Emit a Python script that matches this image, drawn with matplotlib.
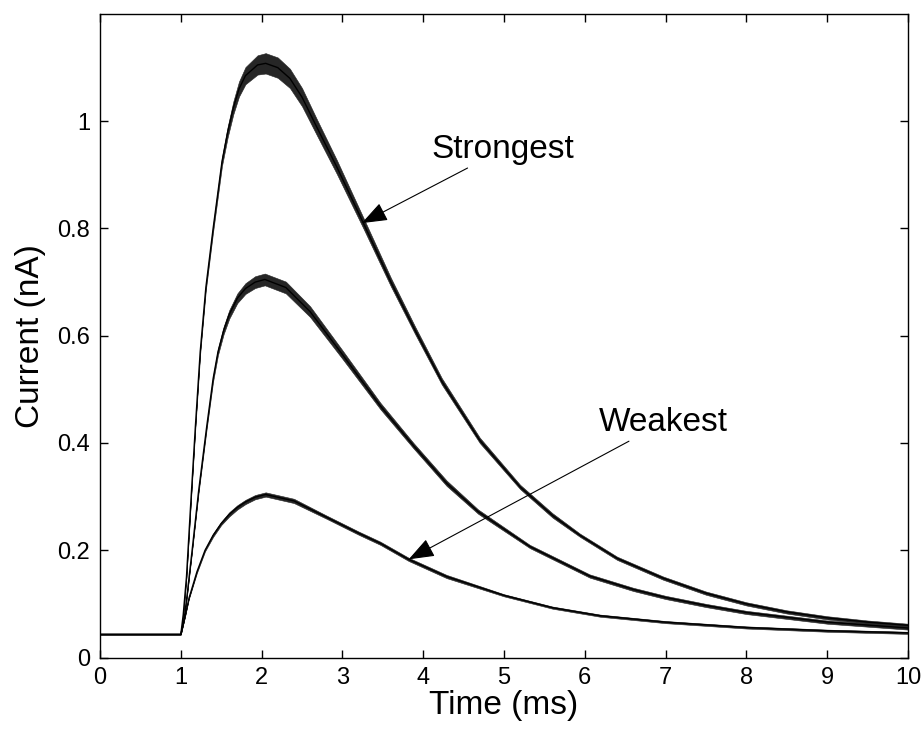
import matplotlib
matplotlib.use("Agg")
import matplotlib.pyplot as plt
import numpy as np

plt.rcParams['font.family'] = ['Liberation Sans', 'DejaVu Sans']

# Time samples (ms) and current traces (nA): centre of trace and half-width of the ripple band
t_strong = [0.0, 1.0, 1.03, 1.07, 1.12, 1.18, 1.24, 1.31, 1.40, 1.51, 1.58, 1.65, 1.72, 1.80, 1.95, 2.05,
            2.20, 2.35, 2.50, 2.68, 2.93, 3.26, 3.60, 3.90, 4.23, 4.70, 5.20, 5.60, 5.94, 6.40, 6.97,
            7.50, 8.00, 8.50, 9.00, 9.50, 10.0]
i_strong = [0.043, 0.043, 0.08, 0.15, 0.28, 0.43, 0.57, 0.69, 0.80, 0.925, 0.98, 1.025, 1.06, 1.085, 1.105, 1.108,
            1.10, 1.08, 1.045, 0.99, 0.915, 0.81, 0.70, 0.61, 0.515, 0.405, 0.318, 0.265, 0.228, 0.185, 0.148,
            0.12, 0.10, 0.085, 0.074, 0.066, 0.06]
w_strong = [0.0, 0.0, 0.0, 0.0, 0.002, 0.003, 0.004, 0.005, 0.006, 0.008, 0.010, 0.012, 0.014, 0.016, 0.018, 0.019,
            0.019, 0.018, 0.017, 0.015, 0.013, 0.010, 0.008, 0.007, 0.006, 0.005, 0.004, 0.004, 0.003, 0.003, 0.003,
            0.003, 0.003, 0.003, 0.003, 0.003, 0.003]

t_mid = [0.0, 1.0, 1.04, 1.08, 1.14, 1.22, 1.32, 1.40, 1.46, 1.53, 1.60, 1.70, 1.80, 1.92, 2.04, 2.30,
         2.60, 3.00, 3.47, 3.88, 4.29, 4.68, 5.32, 6.06, 6.60, 7.00, 7.50, 8.00, 9.00, 10.0]
i_mid = [0.043, 0.043, 0.07, 0.12, 0.20, 0.31, 0.43, 0.52, 0.57, 0.61, 0.64, 0.67, 0.688, 0.700, 0.705, 0.69,
         0.645, 0.565, 0.469, 0.395, 0.325, 0.272, 0.207, 0.152, 0.127, 0.112, 0.097, 0.084, 0.066, 0.055]
w_mid = [0.0, 0.0, 0.0, 0.0, 0.002, 0.003, 0.004, 0.005, 0.006, 0.007, 0.008, 0.009, 0.010, 0.011, 0.011, 0.011,
         0.010, 0.008, 0.006, 0.005, 0.005, 0.004, 0.003, 0.003, 0.003, 0.003, 0.003, 0.003, 0.003, 0.003]

t_weak = [0.0, 1.0, 1.05, 1.10, 1.20, 1.30, 1.40, 1.50, 1.60, 1.70, 1.80, 1.92, 2.05, 2.40, 2.80, 3.20,
          3.47, 3.82, 4.29, 5.00, 5.60, 6.19, 7.00, 8.00, 9.00, 10.0]
i_weak = [0.043, 0.043, 0.075, 0.11, 0.16, 0.20, 0.228, 0.25, 0.267, 0.28, 0.29, 0.299, 0.304, 0.292, 0.262, 0.232,
          0.213, 0.183, 0.151, 0.116, 0.093, 0.078, 0.066, 0.056, 0.05, 0.046]
w_weak = [0.0, 0.0, 0.0, 0.001, 0.002, 0.002, 0.003, 0.003, 0.004, 0.004, 0.004, 0.004, 0.004, 0.004, 0.003, 0.003,
          0.003, 0.003, 0.003, 0.002, 0.002, 0.002, 0.002, 0.002, 0.002, 0.002]

x_ticks = [0, 1, 2, 3, 4, 5, 6, 7, 8, 9, 10]
y_ticks = [0, 0.2, 0.4, 0.6, 0.8, 1.0]
y_tick_labels = ['0', '0.2', '0.4', '0.6', '0.8', '1']

fig = plt.figure(figsize=(9.23, 7.36), dpi=100)
ax = fig.add_axes([100 / 923, (736 - 657.5) / 736, 808 / 923, 643.5 / 736])

for t, c, w in [(t_strong, i_strong, w_strong), (t_mid, i_mid, w_mid), (t_weak, i_weak, w_weak)]:
    t = np.asarray(t)
    c = np.asarray(c)
    w = np.asarray(w)
    ax.fill_between(t, c - w, c + w, color='#262626', lw=0.4)
    ax.plot(t, c, color='black', lw=1.0)

ax.set_xlim(0, 10)
ax.set_ylim(0, 1.2)
ax.set_xticks(x_ticks)
ax.set_yticks(y_ticks)
ax.set_yticklabels(y_tick_labels)
ax.tick_params(direction='in', length=6, width=1.0, labelsize=17,
               top=True, right=True, pad=7)
for s in ax.spines.values():
    s.set_linewidth(1.0)

ax.set_xlabel('Time (ms)', fontsize=24, labelpad=0.5)
ax.set_ylabel('Current (nA)', fontsize=24, labelpad=8)

arrow = dict(arrowstyle='-|>,head_length=0.8,head_width=0.3', color='black',
             lw=0.8, mutation_scale=20, shrinkA=0, shrinkB=0)
ax.annotate('Strongest', xy=(3.24, 0.81), xytext=(4.1, 0.931),
            fontsize=24, ha='left', va='baseline', arrowprops=arrow)
ax.annotate('Weakest', xy=(3.82, 0.183), xytext=(6.17, 0.4216),
            fontsize=24, ha='left', va='baseline', arrowprops=arrow)

fig.savefig('out.png', dpi=100)
